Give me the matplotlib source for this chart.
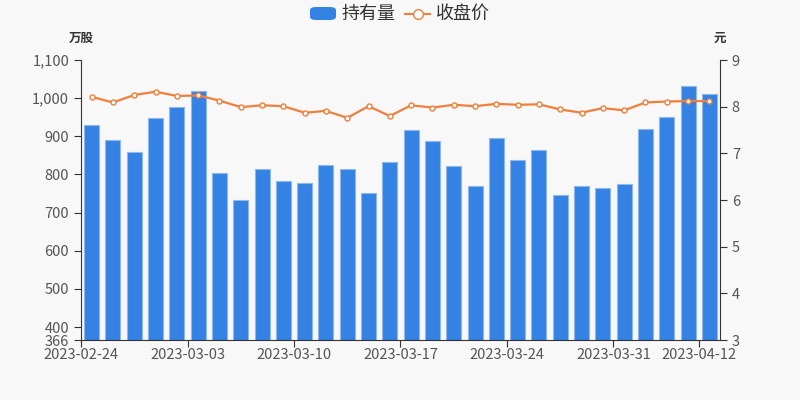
import matplotlib.pyplot as plt
import numpy as np
from matplotlib.ticker import FuncFormatter
from matplotlib.patches import FancyBboxPatch
from matplotlib.lines import Line2D

plt.rcParams['font.family'] = ['Noto Sans CJK SC', 'DejaVu Sans']

# holdings (万股) and close price (元), one per trading day
holdings = [929, 889, 859, 949, 977, 1019, 803, 733, 814, 782,
            777, 826, 813, 751, 833, 916, 888, 821, 771, 896,
            837, 863, 745, 769, 764, 774, 920, 950, 1033, 1010]
close = [8.21, 8.09, 8.25, 8.32, 8.23, 8.24, 8.13, 7.99, 8.03, 8.01,
         7.87, 7.91, 7.76, 8.01, 7.80, 8.03, 7.98, 8.04, 8.01, 8.06,
         8.04, 8.05, 7.94, 7.87, 7.97, 7.92, 8.09, 8.11, 8.12, 8.12]
tick_idx = [0, 5, 10, 15, 20, 25, 29]
tick_labels = ['2023-02-24', '2023-03-03', '2023-03-10', '2023-03-17',
               '2023-03-24', '2023-03-31', '2023-04-12']
left_ticks = [366, 400, 500, 600, 700, 800, 900, 1000, 1100]
right_ticks = [3, 4, 5, 6, 7, 8, 9]

bar_color = '#3482e3'
line_color = '#f07f3a'
text_color = '#555555'
bg = '#f8f8f8'

fig = plt.figure(figsize=(8, 4), dpi=100, facecolor=bg)
ax = fig.add_axes([0.10125, 0.15, 0.79875, 0.70])
ax.set_facecolor(bg)
ax2 = ax.twinx()

x = np.arange(len(holdings)) + 0.5
ax.bar(x, holdings, width=0.7, color=bar_color, edgecolor='#8fb8ee', linewidth=0.8, zorder=2)
ax.set_xlim(0, len(holdings))
ax.set_ylim(366, 1100)
ax.set_yticks(left_ticks)
ax.yaxis.set_major_formatter(FuncFormatter(lambda v, p: f'{int(v):,}'))
ax.set_xticks(tick_idx)
ax.set_xticklabels(tick_labels)

ax2.plot(x, close, color=line_color, linewidth=1.6, marker='o', markersize=3.6,
         markerfacecolor='white', markeredgecolor=line_color, markeredgewidth=1, zorder=3)
ax2.set_ylim(3, 9)
ax2.set_yticks(right_ticks)

for a in (ax, ax2):
    a.spines['top'].set_visible(False)
    for s in ['left', 'right', 'bottom']:
        a.spines[s].set_color('#333333')
    a.tick_params(colors='#333333', labelcolor=text_color, labelsize=10.5, length=5, direction='out')
ax.spines['right'].set_visible(False)
ax2.spines['left'].set_visible(False)
ax2.spines['bottom'].set_visible(False)
ax.tick_params(axis='x', pad=1)

fig.text(0.10125, 0.905, '万股', ha='center', va='center', fontsize=9, fontweight='bold', color='#333333')
fig.text(0.9, 0.905, '元', ha='center', va='center', fontsize=9, fontweight='bold', color='#333333')

# legend drawn by hand to match the rounded swatch
fig.patches.append(FancyBboxPatch((310 / 800, 1 - 20 / 400), 26 / 800, 13 / 400,
                                  boxstyle='round,pad=0,rounding_size=0.008',
                                  transform=fig.transFigure, facecolor=bar_color, edgecolor='none'))
fig.text(342 / 800, 1 - 14 / 400, '持有量', ha='left', va='center', fontsize=13, color='#333333')
fig.lines.append(Line2D([405 / 800, 430 / 800], [1 - 14 / 400, 1 - 14 / 400], transform=fig.transFigure,
                        color=line_color, linewidth=1.5))
fig.lines.append(Line2D([417.5 / 800], [1 - 14 / 400], transform=fig.transFigure, marker='o', markersize=7,
                        markerfacecolor='white', markeredgecolor=line_color, markeredgewidth=1))
fig.text(436 / 800, 1 - 14 / 400, '收盘价', ha='left', va='center', fontsize=13, color='#333333')

fig.savefig('out.png', dpi=100, facecolor=bg)
